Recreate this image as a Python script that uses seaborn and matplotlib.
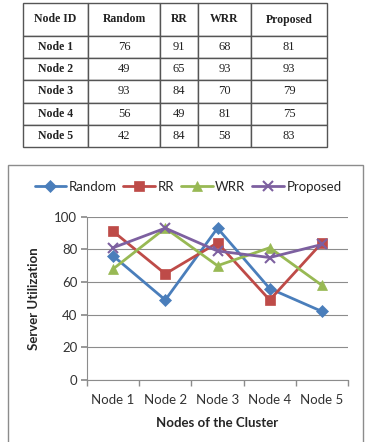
import matplotlib
matplotlib.use("Agg")
import matplotlib.pyplot as plt
import seaborn as sns
import pandas as pd
from matplotlib.patches import Rectangle

nodes = ["Node 1", "Node 2", "Node 3", "Node 4", "Node 5"]
random_vals = [76, 49, 93, 56, 42]
rr_vals = [91, 65, 84, 49, 84]
wrr_vals = [68, 93, 70, 81, 58]
proposed_vals = [81, 93, 79, 75, 83]
series_names = ["Random", "RR", "WRR", "Proposed"]
table_header = ["Node ID", "Random", "RR", "WRR", "Proposed"]
y_ticks = [0, 20, 40, 60, 80, 100]

colors = {"Random": "#4A7EBB", "RR": "#BE4B48", "WRR": "#98B954", "Proposed": "#7D60A0"}
markers = {"Random": "D", "RR": "s", "WRR": "^", "Proposed": "x"}
msizes = {"Random": 6.5, "RR": 7.5, "WRR": 7.5, "Proposed": 7.5}

sns.set_theme(style="white")
plt.rcParams["font.family"] = ["Lato", "DejaVu Sans"]

W, H = 367, 442
fig = plt.figure(figsize=(W / 100, H / 100), dpi=100)

# ---------- table ----------
tax = fig.add_axes([23 / W, 1 - 147 / H, 304 / W, 144 / H])
tax.axis("off")
vals = [random_vals, rr_vals, wrr_vals, proposed_vals]
cell_text = [[str(v[i]) for v in vals] for i in range(len(nodes))]
col_px = [65, 72, 38, 53, 76]
cw = [c / sum(col_px) for c in col_px]
full = [table_header] + [[nodes[i]] + cell_text[i] for i in range(len(nodes))]
tbl = tax.table(cellText=full, colWidths=cw, loc="center", bbox=[0, 0, 1, 1], cellLoc="center")
tbl.auto_set_font_size(False)
for (r, c), cell in tbl.get_celld().items():
    cell.set_edgecolor("#555555")
    cell.set_linewidth(1.0)
    cell.set_height(33 if r == 0 else 22.2)
    bold = (r == 0) or (c == 0)
    cell.get_text().set_fontfamily("Liberation Serif")
    cell.get_text().set_fontsize(8.5 if bold else 9.0)
    cell.get_text().set_fontweight("bold" if bold else "normal")
    cell.get_text().set_color("#222222")

# ---------- chart frame ----------
fig.patches.append(Rectangle((8 / W, -0.05), 355 / W, 0.05 + (H - 165) / H,
                             transform=fig.transFigure, fill=False,
                             edgecolor="#8C8C8C", linewidth=1.0))

# ---------- line chart ----------
ax = fig.add_axes([87 / W, 1 - 380 / H, 261 / W, (380 - 216.7) / H])
rows = []
for name, v in zip(series_names, vals):
    for n, val in zip(nodes, v):
        rows.append({"node": n, "value": val, "series": name})
df = pd.DataFrame(rows)

for name in series_names:
    sub = df[df["series"] == name]
    sns.lineplot(data=sub, x="node", y="value", ax=ax, color=colors[name],
                 marker=markers[name], markersize=msizes[name], linewidth=2.0,
                 markeredgecolor=colors[name],
                 markeredgewidth=1.5 if name == "Proposed" else 0.5,
                 label=name, sort=False)

ax.set_ylim(0, 100)
ax.set_xlim(-0.5, 4.5)
ax.set_yticks(y_ticks)
ax.set_xticks(range(len(nodes)))
ax.set_xticklabels(nodes)
ax.set_xticks([i - 0.5 for i in range(len(nodes) + 1)], minor=True)
ax.grid(axis="y", color="#8C8C8C", linewidth=0.8)
ax.grid(axis="x", visible=False)
for s in ["top", "right"]:
    ax.spines[s].set_visible(False)
for s in ["left", "bottom"]:
    ax.spines[s].set_color("#8C8C8C")
    ax.spines[s].set_linewidth(0.8)
ax.tick_params(axis="x", which="major", length=0, pad=10, labelsize=9.5, colors="#333333")
ax.tick_params(axis="x", which="minor", length=4, color="#8C8C8C", bottom=True, direction="out")
ax.tick_params(axis="y", which="major", length=4, color="#8C8C8C", left=True, direction="out",
               labelsize=9.5, pad=3, labelcolor="#333333")
ax.set_xlabel("Nodes of the Cluster", fontsize=9.5, fontweight="bold", labelpad=8)
ax.set_ylabel("Server Utilization", fontsize=9.5, fontweight="bold", labelpad=10)

leg = ax.legend(loc="center", bbox_to_anchor=(188 / W, 1 - 187 / H), bbox_transform=fig.transFigure,
                ncol=4, frameon=False, fontsize=9.5, handlelength=2.4, handletextpad=0.2,
                columnspacing=0.5, borderaxespad=0)

fig.savefig("out.png", dpi=100)
